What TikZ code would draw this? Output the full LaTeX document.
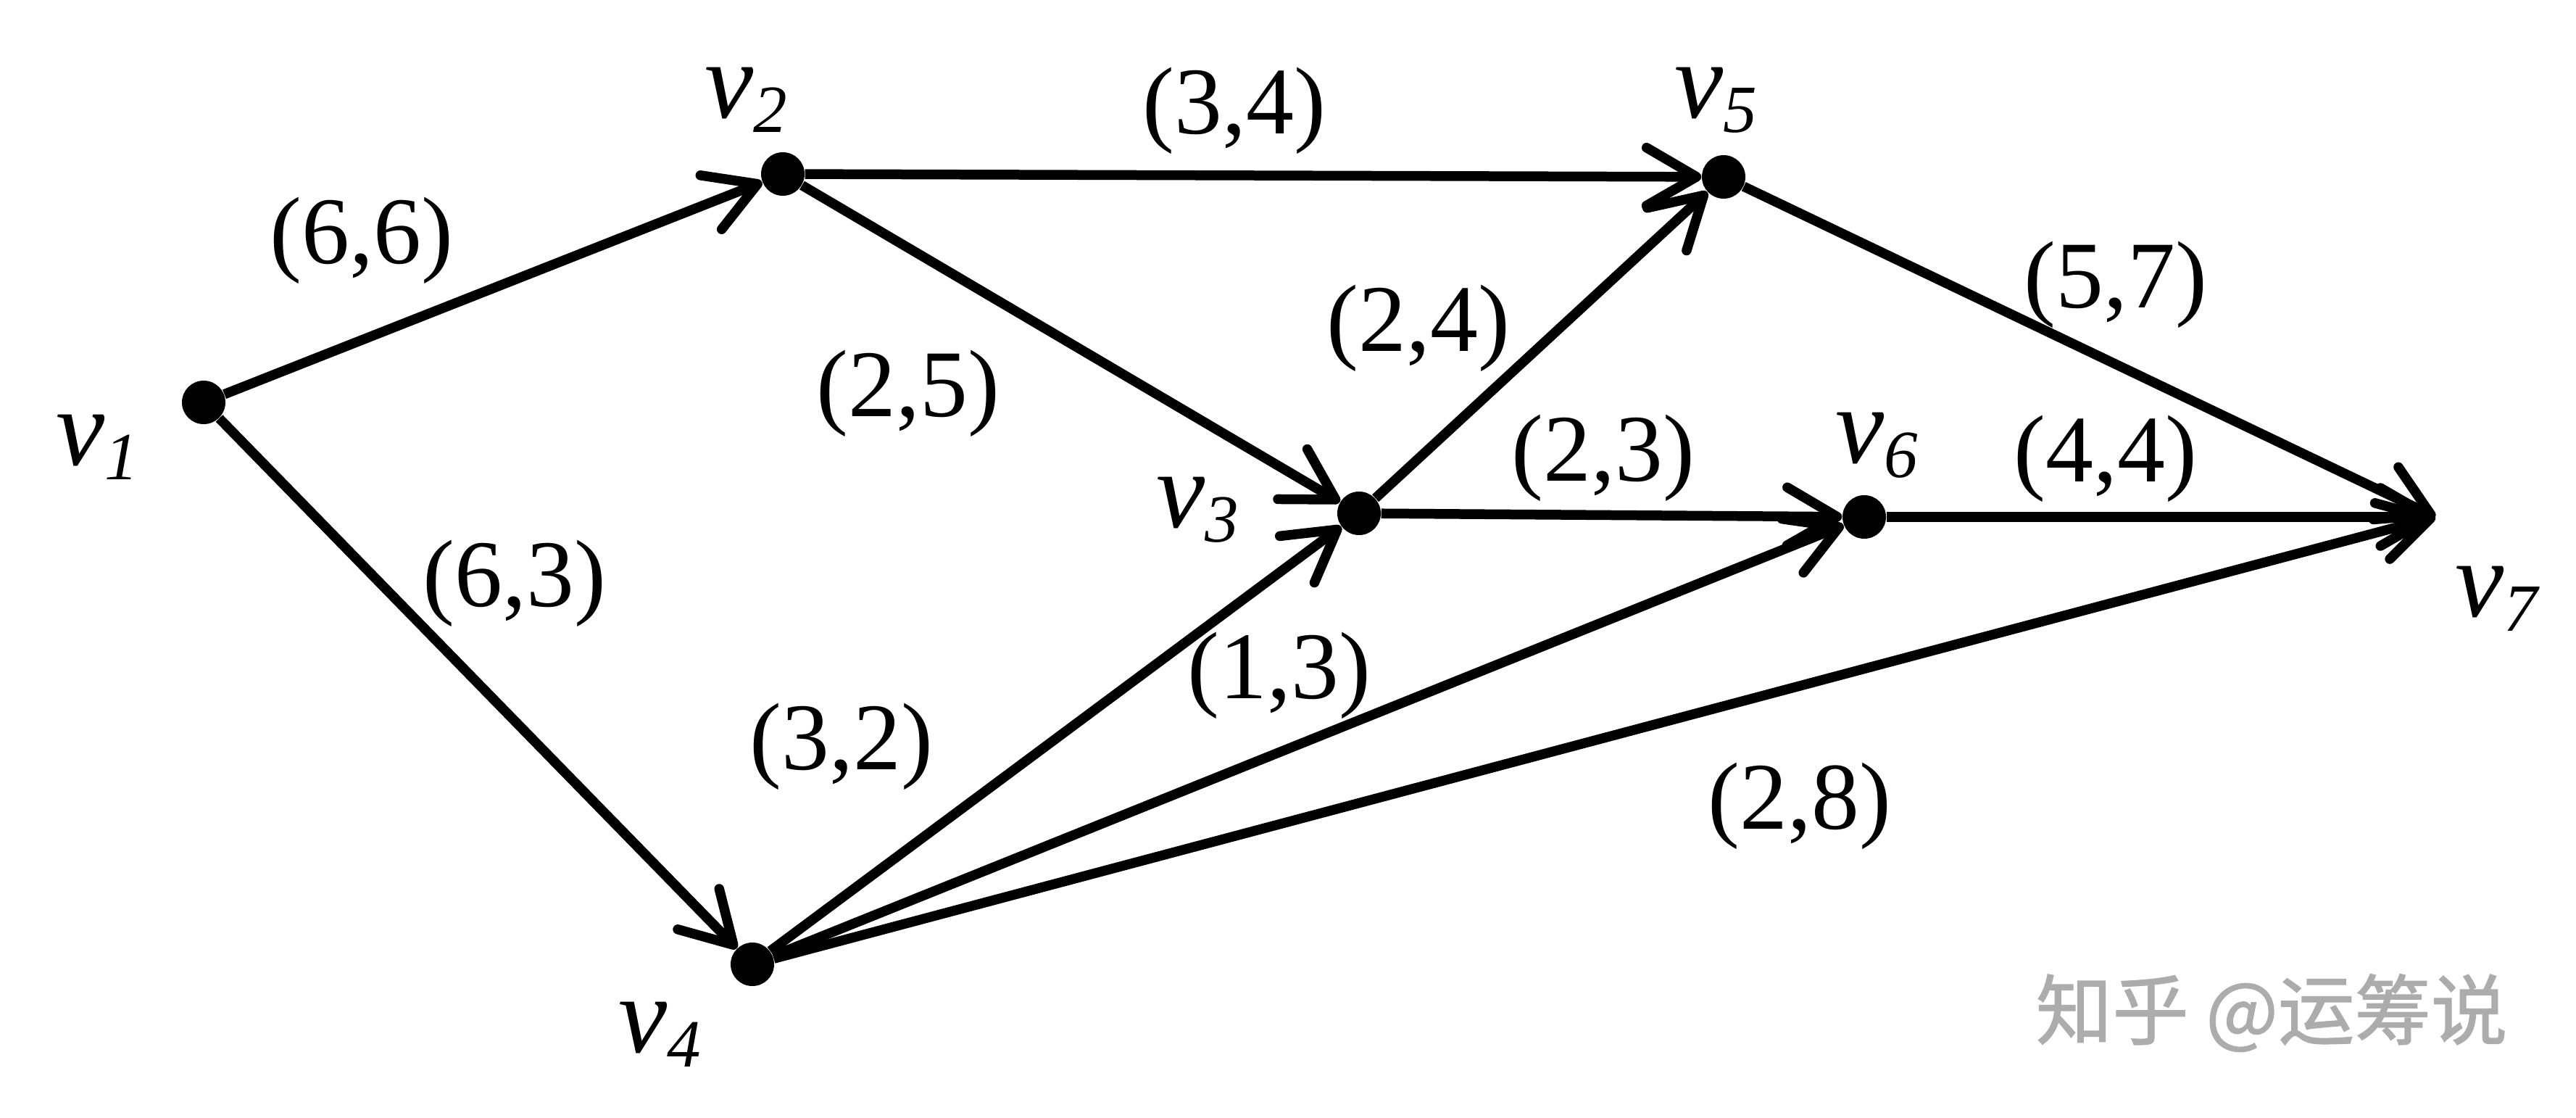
\documentclass[tikz,border=0pt]{standalone}
\usepackage{fontspec}
\setmainfont{Liberation Serif}
\newfontfamily\cjkfont{Noto Sans CJK SC}[FakeBold=1.2]
\usetikzlibrary{arrows.meta}
\definecolor{wmgray}{RGB}{172,172,172}
\newcommand\vsub[1]{v\raisebox{-0.2cm}{\fontsize{26.5pt}{28pt}\selectfont #1}}
\tikzset{
  dot/.style={circle, fill=black, inner sep=0pt, minimum size=0.6cm},
  edge/.style={line width=0.135cm, -{Straight Barb[length=0.69cm,width=0.8cm,round]}},
  wt/.style={inner sep=0pt, font=\fontsize{37.5pt}{40pt}\selectfont},
  vl/.style={inner sep=0pt, anchor=base west, font=\fontsize{43pt}{45pt}\selectfont\itshape},
  wm/.style={inner sep=0pt, text=wmgray, font=\cjkfont\fontsize{30pt}{32pt}\selectfont}
}
\begin{document}
\begin{tikzpicture}
\useasboundingbox (0,0) rectangle (35.54,-15.42);
% vertices
\node[dot] (v1) at (2.81,-5.55) {};
\node[dot] (v2) at (10.80,-2.40) {};
\node[dot] (v3) at (18.75,-7.08) {};
\node[dot] (v4) at (10.38,-13.30) {};
\node[dot] (v5) at (23.78,-2.44) {};
\node[dot] (v6) at (25.72,-7.13) {};
\coordinate (v7) at (33.60,-7.13);
% edges
\draw[edge] (v1) -- (v2);
\draw[edge] (v1) -- (v4);
\draw[edge] (v2) -- (v5);
\draw[edge] (v2) -- (v3);
\draw[edge] (v3) -- (v5);
\draw[edge] (v3) -- (v6);
\draw[edge] (v6) -- (v7);
\draw[edge] (v5) -- (v7);
\draw[edge] (v4) -- (v3);
\draw[edge] (v4) -- (v6);
\draw[edge] (v4) -- (v7);
% weights
\node[wt] (w12) at (4.99,-3.32) {(6,6)};
\node[wt] (w14) at (7.10,-8.05) {(6,3)};
\node[wt] (w25) at (17.03,-1.53) {(3,4)};
\node[wt] (w23) at (12.53,-5.43) {(2,5)};
\node[wt] (w35) at (19.57,-4.53) {(2,4)};
\node[wt] (w36) at (22.12,-6.32) {(2,3)};
\node[wt] (w67) at (29.05,-6.33) {(4,4)};
\node[wt] (w57) at (29.19,-3.93) {(5,7)};
\node[wt] (w43) at (11.61,-10.30) {(3,2)};
\node[wt] (w46) at (17.65,-9.32) {(1,3)};
\node[wt] (w47) at (24.83,-11.12) {(2,8)};
% vertex labels
\node[vl] (l1) at (0.77,-6.41) {\vsub{1}};
\node[vl] (l2) at (9.72,-1.63) {\vsub{2}};
\node[vl] (l3) at (15.95,-7.27) {\vsub{3}};
\node[vl] (l4) at (8.53,-14.51) {\vsub{4}};
\node[vl] (l5) at (23.10,-1.63) {\vsub{5}};
\node[vl] (l6) at (25.32,-6.38) {\vsub{6}};
\node[vl] (l7) at (33.87,-8.50) {\vsub{7}};
% watermark text
\node[wm] (wmark) at (31.34,-13.97) {知乎 @运筹说};
\end{tikzpicture}
\end{document}
